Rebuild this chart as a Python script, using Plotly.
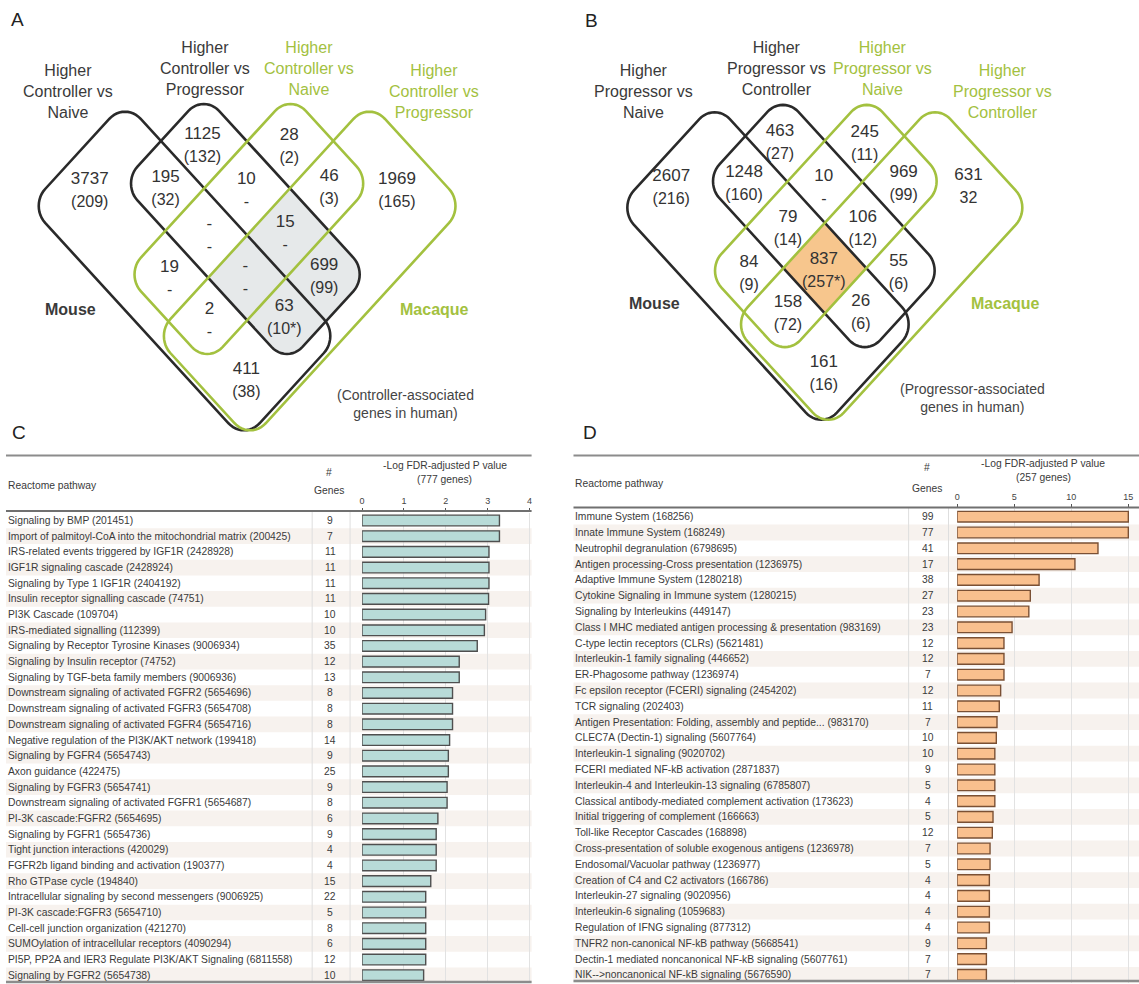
import math
import plotly.graph_objects as go

W, H = 1139, 984
FONT = "Liberation Sans, Arial, sans-serif"
DARK = "#333333"
GREEN = "#a3c13f"
LINE_DARK = "#2a2a2a"

# ---------------- Panel C: controller-associated pathways ----------------
c_pathways = [
    "Signaling by BMP (201451)",
    "Import of palmitoyl-CoA into the mitochondrial matrix (200425)",
    "IRS-related events triggered by IGF1R (2428928)",
    "IGF1R signaling cascade (2428924)",
    "Signaling by Type 1 IGF1R (2404192)",
    "Insulin receptor signalling cascade (74751)",
    "PI3K Cascade (109704)",
    "IRS-mediated signalling (112399)",
    "Signaling by Receptor Tyrosine Kinases (9006934)",
    "Signaling by Insulin receptor (74752)",
    "Signaling by TGF-beta family members (9006936)",
    "Downstream signaling of activated FGFR2 (5654696)",
    "Downstream signaling of activated FGFR3 (5654708)",
    "Downstream signaling of activated FGFR4 (5654716)",
    "Negative regulation of the PI3K/AKT network (199418)",
    "Signaling by FGFR4 (5654743)",
    "Axon guidance (422475)",
    "Signaling by FGFR3 (5654741)",
    "Downstream signaling of activated FGFR1 (5654687)",
    "PI-3K cascade:FGFR2 (5654695)",
    "Signaling by FGFR1 (5654736)",
    "Tight junction interactions (420029)",
    "FGFR2b ligand binding and activation (190377)",
    "Rho GTPase cycle (194840)",
    "Intracellular signaling by second messengers (9006925)",
    "PI-3K cascade:FGFR3 (5654710)",
    "Cell-cell junction organization (421270)",
    "SUMOylation of intracellular receptors (4090294)",
    "PI5P, PP2A and IER3 Regulate PI3K/AKT Signaling (6811558)",
    "Signaling by FGFR2 (5654738)",
]
c_genes = [9, 7, 11, 11, 11, 11, 10, 10, 35, 12, 13, 8, 8, 8, 14, 9, 25, 9, 8, 6,
           9, 4, 4, 15, 22, 5, 8, 6, 12, 10]
c_values = [3.28, 3.28, 3.03, 3.03, 3.03, 3.02, 2.95, 2.92, 2.75, 2.32, 2.32, 2.16,
            2.16, 2.16, 2.09, 2.06, 2.06, 2.03, 2.03, 1.81, 1.77, 1.77, 1.77, 1.64,
            1.52, 1.52, 1.52, 1.52, 1.52, 1.47]
c_ticks = [0, 1, 2, 3, 4]

# ---------------- Panel D: progressor-associated pathways ----------------
d_pathways = [
    "Immune System (168256)",
    "Innate Immune System (168249)",
    "Neutrophil degranulation (6798695)",
    "Antigen processing-Cross presentation (1236975)",
    "Adaptive Immune System (1280218)",
    "Cytokine Signaling in Immune system (1280215)",
    "Signaling by Interleukins (449147)",
    "Class I MHC mediated antigen processing & presentation (983169)",
    "C-type lectin receptors (CLRs) (5621481)",
    "Interleukin-1 family signaling (446652)",
    "ER-Phagosome pathway (1236974)",
    "Fc epsilon receptor (FCERI) signaling (2454202)",
    "TCR signaling (202403)",
    "Antigen Presentation: Folding, assembly and peptide... (983170)",
    "CLEC7A (Dectin-1) signaling (5607764)",
    "Interleukin-1 signaling (9020702)",
    "FCERI mediated NF-kB activation (2871837)",
    "Interleukin-4 and Interleukin-13 signaling (6785807)",
    "Classical antibody-mediated complement activation (173623)",
    "Initial triggering of complement (166663)",
    "Toll-like Receptor Cascades (168898)",
    "Cross-presentation of soluble exogenous antigens (1236978)",
    "Endosomal/Vacuolar pathway (1236977)",
    "Creation of C4 and C2 activators (166786)",
    "Interleukin-27 signaling (9020956)",
    "Interleukin-6 signaling (1059683)",
    "Regulation of IFNG signaling (877312)",
    "TNFR2 non-canonical NF-kB pathway (5668541)",
    "Dectin-1 mediated noncanonical NF-kB signaling (5607761)",
    "NIK-->noncanonical NF-kB signaling (5676590)",
]
d_genes = [99, 77, 41, 17, 38, 27, 23, 23, 12, 12, 7, 12, 11, 7, 10, 10, 9, 5, 4, 5,
           12, 7, 5, 4, 4, 4, 4, 9, 7, 7]
d_values = [15.0, 15.0, 12.34, 10.32, 7.18, 6.41, 6.28, 4.81, 4.10, 4.10, 4.10, 3.81,
            3.69, 3.49, 3.43, 3.30, 3.30, 3.30, 3.30, 3.14, 3.08, 2.88, 2.88, 2.82,
            2.82, 2.82, 2.82, 2.56, 2.56, 2.56]
d_ticks = [0, 5, 10, 15]

# ---------------- Panels A/B: Venn region counts ----------------
a_counts = ["3737", "1125", "28", "195", "10", "46", "1969", "-", "15", "19", "-",
            "699", "2", "63", "411"]
a_human = ["(209)", "(132)", "(2)", "(32)", "-", "(3)", "(165)", "-", "-", "-", "-",
           "(99)", "-", "(10*)", "(38)"]
b_counts = ["2607", "463", "245", "1248", "10", "969", "631", "79", "106", "84", "837",
            "55", "158", "26", "161"]
b_human = ["(216)", "(27)", "(11)", "(160)", "-", "(99)", "32", "(14)", "(12)", "(9)",
           "(257*)", "(6)", "(72)", "(6)", "(16)"]

a_sets = ["Higher<br>Controller vs<br>Naive", "Higher<br>Controller vs<br>Progressor",
          "Higher<br>Controller vs<br>Naive", "Higher<br>Controller vs<br>Progressor"]
b_sets = ["Higher<br>Progressor vs<br>Naive", "Higher<br>Progressor vs<br>Controller",
          "Higher<br>Progressor vs<br>Naive", "Higher<br>Progressor vs<br>Controller"]

# ---------------- layout positions (pixels) ----------------
a_label_xy = [(87, 180), (200, 135), (287, 136), (163, 178), (244, 180), (327, 177),
              (395, 180), (207, 225), (283, 223), (167, 268), (243, 267), (322, 266),
              (207, 310), (282, 307), (244, 370)]
b_label_xy = [(670, 177), (779, 132), (864, 133), (743, 173), (823, 177), (903, 173),
              (968, 176), (787, 218), (862, 218), (748, 263), (823, 260), (898, 262),
              (787, 303), (860, 302), (823, 363)]
SUB_DY = 23

a_head_xy = [(65, 91), (203, 68), (307, 68), (432, 91)]
b_head_xy = [(642, 91), (776, 68), (882, 68), (1002, 91)]

# rounded rectangles: (cx, cy, half-long, half-short, orientation)
a_boxes = [(182, 271, 152, 67.6, "\\"), (243, 229, 117, 58, "\\"),
           (246.5, 229, 117, 58, "/"), (307.5, 271, 152, 67.6, "/")]
b_boxes = [(767, 266, 144, 68.3, "\\"), (823, 226, 114, 56, "\\"),
           (825, 226, 114, 56, "/"), (881, 266, 144, 68.3, "/")]
BOX_COLORS = [LINE_DARK, LINE_DARK, GREEN, GREEN]
STRETCH = 1.09
RADIUS = 22


def rounded_rect(cx, cy, hl, hs, orient, r=RADIUS, k=STRETCH, n=12):
    pts = []
    corners = [(hl - r, hs - r, 0), (-hl + r, hs - r, 90),
               (-hl + r, -hs + r, 180), (hl - r, -hs + r, 270)]
    for ux, vy, a0 in corners:
        for j in range(n + 1):
            a = math.radians(a0 + 90 * j / n)
            pts.append((ux + r * math.cos(a), vy + r * math.sin(a)))
    s2 = 1 / math.sqrt(2)
    d, s = ((s2, s2), (s2, -s2)) if orient == "\\" else ((s2, -s2), (s2, s2))
    return [(cx + u * d[0] + v * s[0], cy + k * (u * d[1] + v * s[1])) for u, v in pts]


def cross(o, a, b):
    return (a[0] - o[0]) * (b[1] - o[1]) - (a[1] - o[1]) * (b[0] - o[0])


def clip(subject, clipper):
    area = sum(clipper[i][0] * clipper[(i + 1) % len(clipper)][1] -
               clipper[(i + 1) % len(clipper)][0] * clipper[i][1]
               for i in range(len(clipper)))
    sg = 1 if area > 0 else -1
    out = subject
    for i in range(len(clipper)):
        A, B = clipper[i], clipper[(i + 1) % len(clipper)]
        inp, out = out, []
        if not inp:
            break
        S = inp[-1]
        for E in inp:
            e_in = sg * cross(A, B, E) >= 0
            s_in = sg * cross(A, B, S) >= 0
            if e_in:
                if not s_in:
                    d1, d2 = cross(A, B, S), cross(A, B, E)
                    t = d1 / (d1 - d2)
                    out.append((S[0] + t * (E[0] - S[0]), S[1] + t * (E[1] - S[1])))
                out.append(E)
            elif s_in:
                d1, d2 = cross(A, B, S), cross(A, B, E)
                t = d1 / (d1 - d2)
                out.append((S[0] + t * (E[0] - S[0]), S[1] + t * (E[1] - S[1])))
            S = E
    return out


def path_of(pts):
    return "M " + " L ".join(f"{x:.2f},{y:.2f}" for x, y in pts) + " Z"


fig = go.Figure()
shapes, annotations = [], []

# ---------------- Venn diagrams ----------------
for boxes, fill_sets, fill_color in ((a_boxes, (1, 3), "#e6e9ea"),
                                     (b_boxes, (0, 1, 2, 3), "#f7c68d")):
    polys = [rounded_rect(*b) for b in boxes]
    region = polys[fill_sets[0]]
    for idx in fill_sets[1:]:
        region = clip(region, polys[idx])
    shapes.append(dict(type="path", xref="x", yref="y", path=path_of(region),
                       fillcolor=fill_color, line=dict(width=0), layer="below"))
    for poly, col in zip(polys, BOX_COLORS):
        shapes.append(dict(type="path", xref="x", yref="y", path=path_of(poly),
                           line=dict(color=col, width=2.6), fillcolor="rgba(0,0,0,0)"))

for counts, human, xy in ((a_counts, a_human, a_label_xy), (b_counts, b_human, b_label_xy)):
    fig.add_trace(go.Scatter(
        x=[p[0] for p in xy], y=[p[1] for p in xy], text=counts, mode="text",
        textfont=dict(family=FONT, size=17, color=DARK), hoverinfo="skip",
        xaxis="x", yaxis="y", showlegend=False))
    fig.add_trace(go.Scatter(
        x=[p[0] for p in xy], y=[p[1] + SUB_DY for p in xy], text=human, mode="text",
        textfont=dict(family=FONT, size=16, color=DARK), hoverinfo="skip",
        xaxis="x", yaxis="y", showlegend=False))

for sets, heads in ((a_sets, a_head_xy), (b_sets, b_head_xy)):
    for i, (txt, (hx, hy)) in enumerate(zip(sets, heads)):
        annotations.append(dict(x=hx, y=hy, xref="x", yref="y", text=txt, showarrow=False,
                                align="center", xanchor="center", yanchor="middle",
                                font=dict(family=FONT, size=16,
                                          color="#3a3a3a" if i < 2 else GREEN)))

for sx, mx, foot_x, foot_y, foot_txt, lab_y in (
        (68, 433, 404, 404, "(Controller-associated<br>genes in human)", 309),
        (653, 1005, 972, 398, "(Progressor-associated<br>genes in human)", 303)):
    annotations.append(dict(x=sx, y=lab_y, xref="x", yref="y", text="<b>Mouse</b>",
                            showarrow=False, font=dict(family=FONT, size=16, color="#3a3a3a")))
    annotations.append(dict(x=mx, y=lab_y, xref="x", yref="y", text="<b>Macaque</b>",
                            showarrow=False, font=dict(family=FONT, size=16, color=GREEN)))
    annotations.append(dict(x=foot_x, y=foot_y, xref="x", yref="y", text=foot_txt,
                            showarrow=False, align="center",
                            font=dict(family=FONT, size=14, color="#444444")))

for letter, lx, ly in (("A", 15, 19), ("B", 590, 20), ("C", 16, 432), ("D", 589, 432)):
    annotations.append(dict(x=lx, y=ly, xref="x", yref="y", text=letter, showarrow=False,
                            font=dict(family=FONT, size=19, color="#222222")))

# ---------------- pathway tables ----------------
TXT = dict(family=FONT, size=10.3, color="#3a3a3a")
tables = [
    dict(names=c_pathways, genes=c_genes, vals=c_values, ticks=c_ticks, xa="x2", ya="y2",
         left=3, right=530, text_x=3, gene_x=328, seps=(310, 348), zero=360, unit=42.0,
         xmax=4.1, row0=520.5, pitch=15.68, top_rule=455.5, axis_rule=511, bottom=982,
         title_x=443, title_y=(465, 479), hash_y=(472, 490), head_y=485,
         n_genes="(777 genes)", fill="#b8dbd8", edge="#4f4f4f"),
    dict(names=d_pathways, genes=d_genes, vals=d_values, ticks=d_ticks, xa="x3", ya="y3",
         left=572, right=W, text_x=571, gene_x=927, seps=(908, 948), zero=956.7,
         unit=11.44, xmax=15.5, row0=516.7, pitch=15.8, top_rule=455.5, axis_rule=507.5,
         bottom=981, title_x=1043, title_y=(463, 477), hash_y=(467, 488), head_y=483,
         n_genes="(257 genes)", fill="#f9c08e", edge="#7a5034"),
]

layout_axes = {}
for t in tables:
    n = len(t["names"])
    top = t["row0"] - t["pitch"] / 2
    bot = top + n * t["pitch"]
    xk = "xaxis" + t["xa"][1:]
    yk = "yaxis" + t["ya"][1:]
    layout_axes[xk] = dict(
        domain=[t["zero"] / W, (t["zero"] + t["xmax"] * t["unit"]) / W],
        range=[0, t["xmax"]], anchor=t["ya"], side="top", tickvals=t["ticks"],
        ticks="outside", ticklen=4, tickwidth=1, tickcolor="#555555",
        tickfont=dict(family=FONT, size=9, color="#444444"),
        showgrid=True, gridcolor="#e2e2e2", gridwidth=1, zeroline=False,
        showline=False, fixedrange=True)
    layout_axes[yk] = dict(
        domain=[1 - bot / H, 1 - top / H], anchor=t["xa"], type="category",
        categoryorder="array", categoryarray=t["names"], range=[n - 0.5, -0.5],
        showticklabels=False, showgrid=False, zeroline=False, showline=False,
        ticks="", fixedrange=True)

    fig.add_trace(go.Bar(
        x=t["vals"], y=t["names"], orientation="h", xaxis=t["xa"], yaxis=t["ya"],
        width=0.68, marker=dict(color=t["fill"], line=dict(color=t["edge"], width=1.4)),
        hoverinfo="skip", showlegend=False))

    # zebra striping of alternate rows
    for i in range(1, n, 2):
        shapes.append(dict(type="rect", xref="paper", yref=t["ya"], x0=t["left"] / W,
                           x1=t["right"] / W, y0=i - 0.5, y1=i + 0.5,
                           fillcolor="#f7f2ee", line=dict(width=0), layer="below"))
    # column separators
    for sx in t["seps"]:
        shapes.append(dict(type="line", xref="x", yref="y", x0=sx, x1=sx,
                           y0=t["axis_rule"], y1=t["bottom"],
                           line=dict(color="#dedede", width=1)))
    # header / footer rules
    shapes.append(dict(type="line", xref="x", yref="y", x0=t["left"], x1=t["right"],
                       y0=t["top_rule"], y1=t["top_rule"], line=dict(color="#8c8c8c", width=2)))
    shapes.append(dict(type="line", xref="x", yref="y", x0=t["left"], x1=t["right"],
                       y0=t["axis_rule"], y1=t["axis_rule"], line=dict(color="#707070", width=2)))
    shapes.append(dict(type="line", xref="x", yref="y", x0=t["left"], x1=t["right"],
                       y0=t["bottom"], y1=t["bottom"], line=dict(color="#8c8c8c", width=2.5)))

    for name, g in zip(t["names"], t["genes"]):
        annotations.append(dict(x=t["text_x"], y=name, xref="x", yref=t["ya"], text=name,
                                showarrow=False, xanchor="left", yanchor="middle", font=TXT))
        annotations.append(dict(x=t["gene_x"], y=name, xref="x", yref=t["ya"], text=str(g),
                                showarrow=False, xanchor="center", yanchor="middle", font=TXT))

    annotations.append(dict(x=t["text_x"], y=t["head_y"], xref="x", yref="y",
                            text="Reactome pathway", showarrow=False, xanchor="left", font=TXT))
    annotations.append(dict(x=t["gene_x"] - 1, y=t["hash_y"][0], xref="x", yref="y", text="#",
                            showarrow=False, font=TXT))
    annotations.append(dict(x=t["gene_x"] - 1, y=t["hash_y"][1], xref="x", yref="y",
                            text="Genes", showarrow=False, font=TXT))
    annotations.append(dict(x=t["title_x"], y=t["title_y"][0], xref="x", yref="y",
                            text="-Log FDR-adjusted P value", showarrow=False, font=TXT))
    annotations.append(dict(x=t["title_x"], y=t["title_y"][1], xref="x", yref="y",
                            text=t["n_genes"], showarrow=False, font=TXT))

fig.update_layout(
    width=W, height=H, margin=dict(l=0, r=0, t=0, b=0),
    paper_bgcolor="white", plot_bgcolor="rgba(0,0,0,0)",
    xaxis=dict(domain=[0, 1], range=[0, W], visible=False, fixedrange=True),
    yaxis=dict(domain=[0, 1], range=[H, 0], visible=False, fixedrange=True),
    shapes=shapes, annotations=annotations, showlegend=False,
    **layout_axes,
)

fig.write_html("out.html", config={"displayModeBar": False})
